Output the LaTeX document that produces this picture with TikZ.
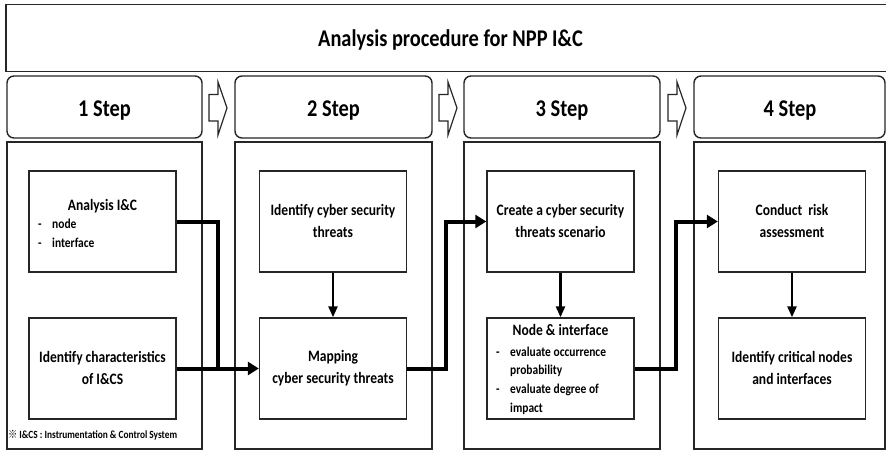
\documentclass[tikz,border=0pt]{standalone}
\usepackage{fontspec}
\setmainfont{Carlito}[FakeStretch=0.85]
\newfontfamily\cjkfont{Noto Sans CJK SC}[FakeStretch=0.85]
\usetikzlibrary{arrows.meta}
\begin{document}
\begin{tikzpicture}[x=1pt,y=-1pt,
  frame/.style={draw=black!85, line width=1.4pt},
  hdr/.style={frame, rounded corners=7pt},
  ibox/.style={frame, minimum width=147pt, minimum height=101pt, inner sep=0pt},
  boxtxt/.style={font=\fontsize{15.9}{21.5}\selectfont\bfseries, align=center, inner sep=0pt},
  subtxt/.style={font=\fontsize{13.5}{16}\selectfont\bfseries, inner sep=0pt, anchor=base west},
  steptxt/.style={font=\fontsize{24}{28}\selectfont\bfseries, inner sep=0pt, anchor=base},
  flow/.style={line width=4pt, black, -{Triangle[length=11pt,width=13pt]}},
  flowline/.style={line width=4pt, black},
  down/.style={line width=2.5pt, black, -{Triangle[length=11pt,width=9pt]}},
  hollow/.style={draw=black!85, line width=1.2pt, fill=white, line join=miter}
]
\useasboundingbox (0,0) rectangle (886,450);
\fill[white] (0,0) rectangle (886,450);

% title
\draw[frame] (6,4.5) rectangle (892,71.5);
\node[font=\fontsize{24}{28}\selectfont\bfseries, inner sep=0pt, anchor=base] (title) at (450.5,46) {Analysis procedure for NPP I\&C};

% step headers
\draw[hdr] (7,76) rectangle (202,138);
\draw[hdr] (235,76) rectangle (432,138);
\draw[hdr] (464,76) rectangle (660,138);
\draw[hdr] (694,76) rectangle (885,138);
\node[steptxt] (s1) at (104.5,116) {1 Step};
\node[steptxt] (s2) at (333.5,116) {2 Step};
\node[steptxt] (s3) at (562,116) {3 Step};
\node[steptxt] (s4) at (790,116) {4 Step};

% hollow arrows between headers
\foreach \L in {209,439,668}{
  \draw[hollow] (\L,94.5) -- (\L+9,94.5) -- (\L+9,82) -- (\L+18,108) -- (\L+9,135) -- (\L+9,121) -- (\L,121) -- cycle;
}

% column frames
\draw[frame] (7,142) rectangle (202,449);
\draw[frame] (235,142) rectangle (432,449);
\draw[frame] (464,142) rectangle (660,449);
\draw[frame] (694,142) rectangle (885,449);

% column 1
\node[ibox] (an) at (102.5,221.5) {};
\node[font=\fontsize{15.9}{18}\selectfont\bfseries, inner sep=0pt, anchor=base] (antitle) at (102.5,210) {Analysis I\&C};
\node[subtxt] (and1) at (38,228) {-};
\node[subtxt] (ant1) at (52,228) {node};
\node[subtxt] (and2) at (38,247) {-};
\node[subtxt] (ant2) at (52,247) {interface};
\node[ibox] (ic) at (102.5,368.5) {};
\node[boxtxt] (ictxt) at (102.5,368) {Identify characteristics\\of I\&CS};
\node[font=\fontsize{11}{13}\selectfont\bfseries, inner sep=0pt, anchor=base west] (foot) at (8,438) {{\cjkfont ※}\,I\&CS : Instrumentation \& Control System};

% column 2
\node[ibox] (ict) at (333,221.5) {};
\node[boxtxt] (icttxt) at (333,221) {Identify cyber security\\threats};
\node[ibox] (map) at (333,368.5) {};
\node[boxtxt] (maptxt) at (333,368) {Mapping\\cyber security threats};

% column 3
\node[ibox] (cr) at (560.5,221.5) {};
\node[boxtxt] (crtxt) at (560.5,221) {Create a cyber security\\threats scenario};
\node[ibox] (ni) at (560.5,368.5) {};
\node[font=\fontsize{15.9}{18}\selectfont\bfseries, inner sep=0pt, anchor=base] (nititle) at (560.5,335) {Node \& interface};
\node[subtxt] (nid1) at (496,356) {-};
\node[subtxt] (nit1) at (510,356) {evaluate occurrence};
\node[subtxt] (nit2) at (510,374) {probability};
\node[subtxt] (nid2) at (496,393) {-};
\node[subtxt] (nit3) at (510,393) {evaluate degree of};
\node[subtxt] (nit4) at (510,412) {impact};

% column 4
\node[ibox] (ca) at (792,221.5) {};
\node[boxtxt] (catxt) at (792,221) {Conduct\ \ risk\\assessment};
\node[ibox] (cn) at (792,368.5) {};
\node[boxtxt] (cntxt) at (792,368) {Identify critical nodes\\and interfaces};

% connectors
\coordinate (j1) at (218,368.5);
\coordinate (j2) at (446,221.5);
\coordinate (j3) at (676,221.5);
\draw[flowline] (an.east) -| (j1);
\draw[flow] (ic.east) -- (map.west);
\draw[flow] (map.east) -| (j2) -- (cr.west);
\draw[flow] (ni.east) -| (j3) -- (ca.west);
\draw[down] (ict.south) -- (map.north);
\draw[down] (cr.south) -- (ni.north);
\draw[down] (ca.south) -- (cn.north);
\end{tikzpicture}
\end{document}
